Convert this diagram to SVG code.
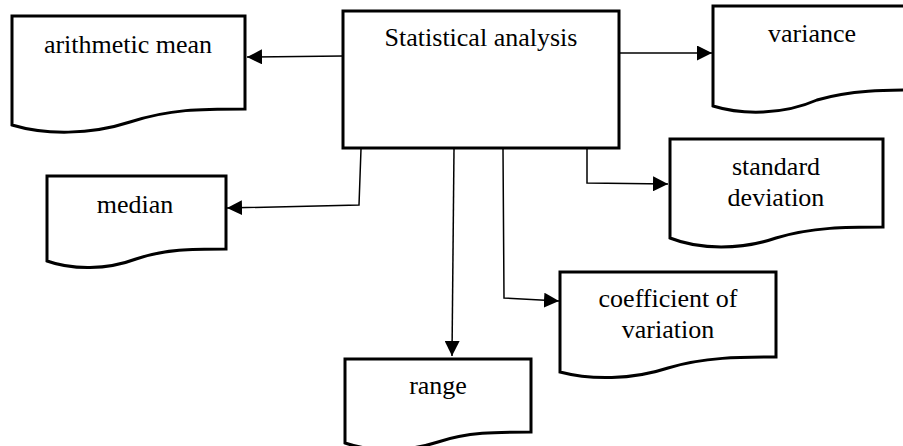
<svg xmlns="http://www.w3.org/2000/svg" width="903" height="446" viewBox="0 0 903 446">
<style>
.box{fill:#fff;stroke:#000;stroke-width:3;stroke-linejoin:miter}
.lbl{font-family:'Liberation Serif','Times New Roman','DejaVu Serif',serif;font-size:26px;fill:#000;text-anchor:middle}
.con{fill:none;stroke:#000;stroke-width:1.5}
</style>
<defs>
<marker id="arr" markerUnits="userSpaceOnUse" markerWidth="16" markerHeight="15" refX="15" refY="7.5" orient="auto">
<path d="M0,0 L15,7.5 L0,15 Z" fill="#000"/>
</marker>
</defs>
<rect width="903" height="446" fill="#fff"/>
<g id="connectors">
<path class="con" d="M343,56 L247,57" marker-end="url(#arr)"/>
<path class="con" d="M619,53 L712,53" marker-end="url(#arr)"/>
<path class="con" d="M361,149 L359,205 L227,208" marker-end="url(#arr)"/>
<path class="con" d="M454,149 L452,356" marker-end="url(#arr)"/>
<path class="con" d="M503,149 L504,298 L559,301" marker-end="url(#arr)"/>
<path class="con" d="M587,149 L587,183 L668,184" marker-end="url(#arr)"/>
</g>
<g id="statistical-analysis">
<rect class="box" x="343" y="11" width="276" height="137"/>
<text class="lbl" font-family="Liberation Serif, serif" x="481" y="46">Statistical analysis</text>
</g>
<g id="arithmetic-mean">
<path class="box" d="M12,16 H245 V109 C200,109 170,109 130,122 C90,135 45,135 12,125 Z"/>
<text class="lbl" font-family="Liberation Serif, serif" x="128" y="53">arithmetic mean</text>
</g>
<g id="median">
<path class="box" d="M47,176 H226 V249 C192,249 165,249 136,259 C107,270 72,270 47,261 Z"/>
<text class="lbl" font-family="Liberation Serif, serif" x="135" y="213">median</text>
</g>
<g id="range">
<path class="box" d="M345,359 H531 V432 C496,432 467,432 438,442 C407,452 371,452 345,443 Z"/>
<text class="lbl" font-family="Liberation Serif, serif" x="438" y="394">range</text>
</g>
<g id="coefficient-of-variation">
<path class="box" d="M560,272 H776 V357 C741,357 704,357 668,368 C632,380 590,380 560,372 Z"/>
<text class="lbl" font-family="Liberation Serif, serif" x="668" y="307">coefficient of</text>
<text class="lbl" font-family="Liberation Serif, serif" x="668" y="338">variation</text>
</g>
<g id="standard-deviation">
<path class="box" d="M670,139 H883 V227 C848,227 812,227 776,238 C741,250 700,250 670,238 Z"/>
<text class="lbl" font-family="Liberation Serif, serif" x="776" y="175">standard</text>
<text class="lbl" font-family="Liberation Serif, serif" x="776" y="206">deviation</text>
</g>
<g id="variance">
<path class="box" d="M713,6 H921 V90 C885,90 851,90 817,100 C783,115 742,115 713,106 Z"/>
<text class="lbl" font-family="Liberation Serif, serif" x="812" y="42">variance</text>
</g>
</svg>
